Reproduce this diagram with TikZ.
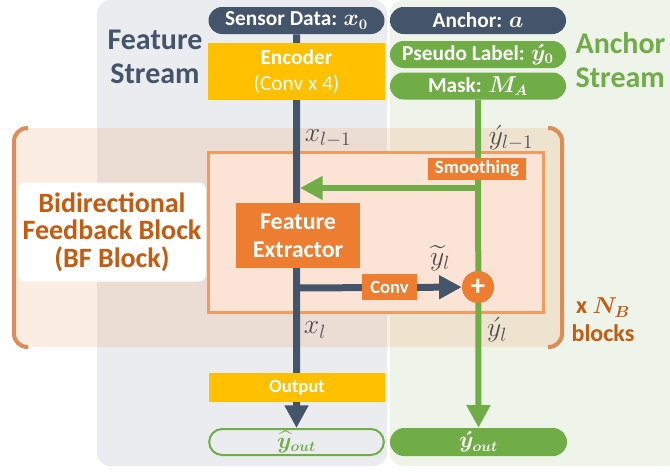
\documentclass[tikz,border=0pt]{standalone}
\usepackage{amsmath}
\usepackage{fontspec}
\setmainfont{Carlito}
\usetikzlibrary{arrows.meta,shapes.misc}
\definecolor{slate}{HTML}{44546A}
\definecolor{leaf}{HTML}{70AD47}
\definecolor{tang}{HTML}{ED7D31}
\definecolor{rust}{HTML}{C55A11}
\definecolor{gold}{HTML}{FFC000}
\definecolor{featbg}{HTML}{EBECEF}
\definecolor{anchbg}{HTML}{EFF4EA}
\definecolor{blockfill}{HTML}{FBE4D6}
\definecolor{blockline}{HTML}{F19B60}
\definecolor{bracket}{HTML}{DE8C55}
\definecolor{labelgray}{HTML}{4D4D4D}
\pgfdeclarelayer{back}
\pgfdeclarelayer{wires}
\pgfsetlayers{back,wires,main}
\begin{document}
\begin{tikzpicture}[x=0.75pt,y=-0.75pt,
  pill/.style={rounded rectangle, minimum width=132pt, minimum height=20.25pt, inner sep=0pt, text=white, font=\fontsize{16}{18}\selectfont\bfseries},
  box/.style={rectangle, inner sep=0pt, text=white, align=center, font=\fontsize{14}{16}\selectfont\bfseries},
  wire/.style={line width=5.25pt, -{Triangle[length=17pt,width=17pt]}},
  lbl/.style={text=labelgray, inner sep=1pt, font=\fontsize{20}{20}\selectfont},
  title/.style={font=\fontsize{22.5}{26}\selectfont\bfseries}]
\useasboundingbox (0,0) rectangle (670,471);
\begin{pgfonlayer}{back}
\begin{scope}
\clip (0,0) rectangle (670,471);
\fill[featbg, rounded corners=10pt] (97,0) rectangle (387,466);
\fill[anchbg, rounded corners=10pt] (390,0) rectangle (700,466);
\fill[tang, opacity=0.14, rounded corners=10pt] (14,128) rectangle (562,347);
\end{scope}
\draw[bracket, line width=3pt, rounded corners=10pt] (28,128) -- (14,128) -- (14,347) -- (28,347);
\draw[bracket, line width=3pt, rounded corners=10pt] (548,128) -- (562,128) -- (562,347) -- (548,347);
\draw[blockline, line width=2.25pt, fill=blockfill] (208,152) rectangle (543,312);
\end{pgfonlayer}

\node[title, text=slate, align=center] (ftitle) at (155,57) {Feature\\Stream};
\node[title, text=leaf, align=left, anchor=west, inner sep=1pt] (atitle) at (574,60) {Anchor\\Stream};
\node[fill=white, rounded corners=5pt, minimum width=138pt, minimum height=74.25pt, align=center, text=rust, font=\fontsize{21}{20.5}\selectfont\bfseries] (bflabel) at (112,232) {Bidirectional\\Feedback Block\\(BF Block)};

\node[pill, fill=slate] (sensor) at (296.5,20.5) {Sensor Data: $\boldsymbol{x_0}$};
\node[pill, fill=slate] (anchor) at (478,20.5) {Anchor: $\boldsymbol{a}$};
\node[pill, fill=leaf] (pseudo) at (478,54.5) {Pseudo Label: $\boldsymbol{\acute{y}_0}$};
\node[pill, fill=leaf] (mask) at (478,86) {Mask: $\boldsymbol{M_A}$};
\node[box, fill=gold, minimum width=132.75pt, minimum height=42.75pt, font=\fontsize{16}{19}\selectfont] (encoder) at (296.5,71.5) {\textbf{Encoder}\\(Conv x 4)};
\node[box, fill=tang, minimum width=73.5pt, minimum height=16.5pt] (smooth) at (477,169) {Smoothing};
\node[box, fill=tang, minimum width=93pt, minimum height=48.75pt, font=\fontsize{18}{21}\selectfont\bfseries] (extractor) at (298,235.5) {Feature\\Extractor};
\node[box, fill=tang, minimum width=41.25pt, minimum height=19.5pt] (conv) at (389.5,287) {Conv};
\node[circle, fill=tang, minimum size=24pt, inner sep=0pt, text=white, font=\fontsize{22}{22}\selectfont\bfseries] (plus) at (478,287) {+};
\node[box, fill=gold, minimum width=132pt, minimum height=21.75pt] (output) at (297,387.5) {Output};
\node[pill, draw=leaf, line width=1.5pt, fill=featbg, text=leaf, minimum width=131pt, minimum height=19.5pt] (yhat) at (296.5,442) {$\boldsymbol{\widehat{y}_{out}}$};
\node[pill, fill=leaf, minimum width=132.75pt, minimum height=21pt] (yout) at (478.5,442) {$\boldsymbol{\acute{y}_{out}}$};

\node[lbl] (xprev) at (328,138) {$x_{l-1}$};
\node[lbl] (yprev) at (511,138) {$\acute{y}_{l-1}$};
\node[lbl] (ytilde) at (440,258) {$\widetilde{y}_l$};
\node[lbl] (xcur) at (315,330) {$x_l$};
\node[lbl] (ycur) at (497,330) {$\acute{y}_l$};
\node[text=rust, align=center, font=\fontsize{18}{21}\selectfont\bfseries] (repeat) at (603,320) {x $\boldsymbol{N_B}$\\blocks};

\coordinate (tap) at (478,188);
\coordinate (fb) at (300,188);
\coordinate (fork) at (296,288);
\begin{pgfonlayer}{wires}
\draw[wire, slate] (sensor) -- (yhat);
\draw[wire, leaf, line width=4.5pt] (mask) -- (yout);
\draw[wire, leaf, line width=4.5pt] (tap) -- (fb);
\draw[wire, slate] (fork) -- (plus);
\end{pgfonlayer}
\end{tikzpicture}
\end{document}
